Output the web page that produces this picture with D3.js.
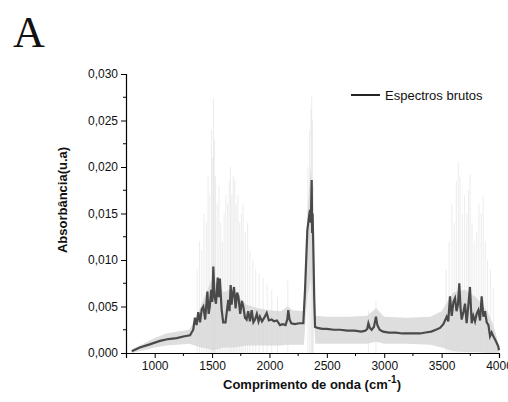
<!DOCTYPE html>
<html>
<head>
<meta charset="utf-8">
<script src="https://cdn.jsdelivr.net/npm/d3@7"></script>
<style>
  body { margin: 0; background: #fff; }
  text { font-family: "Liberation Sans", Arial, sans-serif; fill: #111; }
</style>
</head>
<body>
<svg id="chart"></svg>
<script>
// mean raw spectrum (dark line)
const meanWave = [800, 870, 950, 1046, 1120, 1191, 1260, 1308, 1336, 1351, 1365, 1380, 1395, 1410, 1424, 1440, 1459, 1470, 1480, 1492, 1502, 1511, 1520, 1534, 1549, 1558, 1568, 1583, 1597, 1617, 1630, 1641, 1652, 1662, 1670, 1677, 1691, 1705, 1718, 1729, 1745, 1760, 1772, 1787, 1801, 1815, 1830, 1845, 1860, 1874, 1890, 1905, 1917, 1935, 1955, 1976, 1995, 2019, 2040, 2065, 2092, 2115, 2140, 2155, 2164, 2175, 2190, 2220, 2260, 2295, 2310, 2330, 2343, 2353, 2360, 2368, 2372, 2376, 2382, 2390, 2397, 2420, 2460, 2499, 2560, 2615, 2680, 2740, 2800, 2835, 2852, 2862, 2875, 2890, 2910, 2928, 2940, 2960, 2990, 3040, 3100, 3160, 3220, 3280, 3312, 3360, 3410, 3450, 3486, 3515, 3544, 3558, 3573, 3588, 3603, 3617, 3630, 3642, 3654, 3665, 3675, 3690, 3704, 3718, 3732, 3747, 3762, 3776, 3791, 3805, 3820, 3835, 3849, 3864, 3878, 3893, 3908, 3922, 3936, 3951, 3972, 3994, 4000];
const meanAbs = [0.0002, 0.0006, 0.0009, 0.0013, 0.0015, 0.0016, 0.0018, 0.0019, 0.0025, 0.0038, 0.0030, 0.0044, 0.0033, 0.0047, 0.0050, 0.0036, 0.0066, 0.0042, 0.0050, 0.0068, 0.0055, 0.0093, 0.0062, 0.0053, 0.0081, 0.0060, 0.0080, 0.0047, 0.0033, 0.0033, 0.0046, 0.0057, 0.0045, 0.0073, 0.0052, 0.0060, 0.0071, 0.0048, 0.0065, 0.0061, 0.0042, 0.0056, 0.0050, 0.0038, 0.0036, 0.0045, 0.0034, 0.0046, 0.0033, 0.0036, 0.0042, 0.0034, 0.0039, 0.0034, 0.0038, 0.0043, 0.0035, 0.0036, 0.0034, 0.0035, 0.0030, 0.0031, 0.0030, 0.0036, 0.0046, 0.0036, 0.0032, 0.0031, 0.0032, 0.0032, 0.0068, 0.0132, 0.0145, 0.0154, 0.0140, 0.0186, 0.0129, 0.0150, 0.0114, 0.0060, 0.0028, 0.0027, 0.0026, 0.0026, 0.0025, 0.0025, 0.0024, 0.0024, 0.0023, 0.0024, 0.0026, 0.0032, 0.0027, 0.0025, 0.0028, 0.0039, 0.0030, 0.0025, 0.0023, 0.0022, 0.0022, 0.0021, 0.0021, 0.0021, 0.0021, 0.0022, 0.0023, 0.0025, 0.0027, 0.0031, 0.0039, 0.0034, 0.0061, 0.0040, 0.0055, 0.0059, 0.0045, 0.0052, 0.0075, 0.0048, 0.0036, 0.0044, 0.0053, 0.0032, 0.0050, 0.0071, 0.0032, 0.0040, 0.0034, 0.0042, 0.0046, 0.0035, 0.0061, 0.0039, 0.0045, 0.0033, 0.0030, 0.0018, 0.0022, 0.0018, 0.0013, 0.0007, 0.0003];

// spread of the individual spectra (light grey band)
const bandWave = [800, 900, 1000, 1100, 1200, 1300, 1350, 1400, 1450, 1500, 1550, 1600, 1650, 1700, 1750, 1800, 1900, 2000, 2100, 2160, 2200, 2300, 2330, 2360, 2380, 2400, 2500, 2700, 2850, 2930, 3000, 3200, 3400, 3500, 3600, 3700, 3800, 3900, 3950, 4000];
const bandLow = [0.0000, 0.0003, 0.0006, 0.0008, 0.0009, 0.0010, 0.0008, 0.0006, 0.0005, 0.0003, 0.0004, 0.0006, 0.0006, 0.0006, 0.0007, 0.0008, 0.0008, 0.0008, 0.0008, 0.0009, 0.0009, 0.0009, 0.0060, 0.0080, 0.0050, 0.0010, 0.0010, 0.0010, 0.0010, 0.0012, 0.0010, 0.0010, 0.0009, 0.0006, 0.0002, 0.0001, 0.0001, 0.0000, 0.0000, 0.0000];
const bandHigh = [0.0004, 0.0010, 0.0016, 0.0021, 0.0023, 0.0025, 0.0035, 0.0050, 0.0065, 0.0080, 0.0075, 0.0065, 0.0068, 0.0065, 0.0058, 0.0052, 0.0048, 0.0046, 0.0045, 0.0050, 0.0046, 0.0045, 0.0150, 0.0200, 0.0140, 0.0040, 0.0039, 0.0039, 0.0040, 0.0048, 0.0039, 0.0038, 0.0039, 0.0045, 0.0065, 0.0068, 0.0060, 0.0045, 0.0030, 0.0008];

// tallest excursions of single spectra (thin vertical spikes)
const spikeWave = [1370, 1390, 1410, 1430, 1450, 1465, 1480, 1495, 1505, 1512, 1520, 1530, 1545, 1560, 1575, 1590, 1605, 1620, 1635, 1648, 1660, 1672, 1685, 1698, 1710, 1725, 1740, 1755, 1770, 1790, 1810, 1830, 1855, 1880, 1910, 1945, 1980, 2020, 2070, 2160, 2335, 2350, 2362, 2368, 2374, 2382, 2862, 2928, 3540, 3565, 3590, 3610, 3628, 3645, 3660, 3680, 3700, 3720, 3735, 3748, 3765, 3785, 3805, 3825, 3845, 3862, 3880, 3900, 3925, 3950];
const spikeTop = [0.0090, 0.0120, 0.0110, 0.0150, 0.0140, 0.0190, 0.0170, 0.0240, 0.0210, 0.0274, 0.0230, 0.0190, 0.0160, 0.0180, 0.0140, 0.0120, 0.0150, 0.0170, 0.0160, 0.0185, 0.0200, 0.0170, 0.0190, 0.0186, 0.0160, 0.0170, 0.0140, 0.0150, 0.0160, 0.0130, 0.0140, 0.0110, 0.0100, 0.0090, 0.0085, 0.0080, 0.0075, 0.0068, 0.0060, 0.0078, 0.0200, 0.0240, 0.0262, 0.0276, 0.0250, 0.0180, 0.0046, 0.0056, 0.0090, 0.0120, 0.0160, 0.0140, 0.0185, 0.0205, 0.0190, 0.0150, 0.0170, 0.0150, 0.0175, 0.0192, 0.0140, 0.0120, 0.0130, 0.0160, 0.0150, 0.0168, 0.0120, 0.0100, 0.0090, 0.0070];

const xTicks = [1000, 1500, 2000, 2500, 3000, 3500, 4000];
const yTicks = [0, 0.005, 0.010, 0.015, 0.020, 0.025, 0.030];

const W = 508, H = 402;
const margin = {top: 74, left: 126, right: 9, bottom: 49};
const width = W - margin.left - margin.right;
const height = H - margin.top - margin.bottom;

const svg = d3.select('#chart').attr('width', W).attr('height', H);
const g = svg.append('g').attr('transform', `translate(${margin.left},${margin.top})`);

const x = d3.scaleLinear().domain([750, 4000]).range([0, width]);
const y = d3.scaleLinear().domain([0, 0.030]).range([height, 0]);

const fmt = d => d3.format('.3f')(d).replace('.', ',');

// spikes (very faint, behind everything)
g.append('g').selectAll('line')
  .data(spikeWave.map((w, i) => ({w, top: spikeTop[i]})))
  .join('line')
  .attr('x1', d => x(d.w)).attr('x2', d => x(d.w))
  .attr('y1', y(0)).attr('y2', d => y(d.top))
  .attr('stroke', '#d4d4d4')
  .attr('stroke-opacity', 0.45)
  .attr('stroke-width', 1);

// band
const band = bandWave.map((w, i) => ({w, lo: bandLow[i], hi: bandHigh[i]}));
g.append('path')
  .datum(band)
  .attr('fill', '#d8d8d8')
  .attr('fill-opacity', 0.85)
  .attr('d', d3.area().x(d => x(d.w)).y0(d => y(d.lo)).y1(d => y(d.hi)));

// mean line
const mean = meanWave.map((w, i) => ({w, v: meanAbs[i]}));
g.append('path')
  .datum(mean)
  .attr('fill', 'none')
  .attr('stroke', '#4a4a4a')
  .attr('stroke-width', 2.2)
  .attr('stroke-linejoin', 'miter')
  .attr('d', d3.line().x(d => x(d.w)).y(d => y(d.v)));

// axes
const xAxis = d3.axisBottom(x).tickValues(xTicks).tickSize(5).tickPadding(3).tickFormat(d3.format('d'));
const yAxis = d3.axisLeft(y).tickValues(yTicks).tickSize(5).tickPadding(3).tickFormat(fmt);

const xAxisG = g.append('g').attr('transform', `translate(0,${height})`).call(xAxis);
const yAxisG = g.append('g').call(yAxis);

// minor ticks
g.append('g').selectAll('line')
  .data([1250, 1750, 2250, 2750, 3250, 3750])
  .join('line')
  .attr('x1', d => x(d)).attr('x2', d => x(d))
  .attr('y1', height).attr('y2', height + 3)
  .attr('stroke', '#000');
g.append('g').selectAll('line')
  .data([0.0025, 0.0075, 0.0125, 0.0175, 0.0225, 0.0275])
  .join('line')
  .attr('x1', 0).attr('x2', -3)
  .attr('y1', d => y(d)).attr('y2', d => y(d))
  .attr('stroke', '#000');

[xAxisG, yAxisG].forEach(a => {
  a.select('.domain').attr('stroke', '#000').attr('stroke-width', 1.2);
  a.selectAll('.tick line').attr('stroke', '#000');
  a.selectAll('text').style('font-family', '"Liberation Sans", Arial, sans-serif').style('font-size', '12px').attr('fill', '#222');
});

// axis titles
const xt = svg.append('text')
  .attr('x', 312).attr('y', 389)
  .attr('text-anchor', 'middle')
  .style('font-size', '13px').style('font-weight', 'bold');
xt.append('tspan').text('Comprimento de onda (cm');
xt.append('tspan').attr('dy', -6).style('font-size', '10px').text('-1');
xt.append('tspan').attr('dy', 6).text(')');

svg.append('text')
  .attr('transform', 'translate(67,200) rotate(-90)')
  .attr('text-anchor', 'middle')
  .style('font-size', '13px').style('font-weight', 'bold')
  .text('Absorbância(u.a)');

// panel letter
svg.append('text')
  .attr('x', 13).attr('y', 47)
  .style('font-family', '"Liberation Serif", "Times New Roman", serif')
  .style('font-size', '44px')
  .text('A');

// legend
svg.append('line')
  .attr('x1', 351).attr('x2', 380).attr('y1', 95).attr('y2', 95)
  .attr('stroke', '#222').attr('stroke-width', 2);
svg.append('text')
  .attr('x', 385).attr('y', 99.5)
  .style('font-size', '13px')
  .text('Espectros brutos');
</script>
</body>
</html>
